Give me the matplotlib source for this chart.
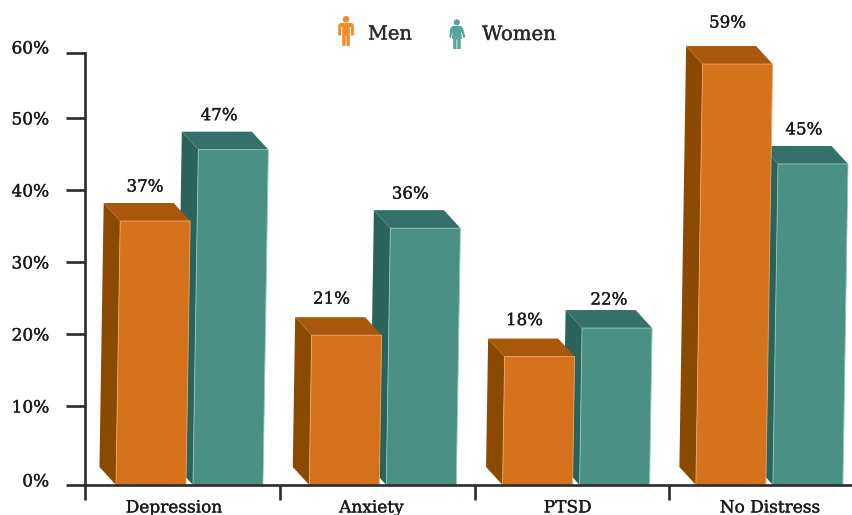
import matplotlib
matplotlib.use('Agg')
import matplotlib.pyplot as plt
import matplotlib.patheffects as pe
from matplotlib.patches import Polygon, Circle
from matplotlib.transforms import Affine2D

plt.rcParams['font.family'] = 'DejaVu Serif'

categories = ['Depression', 'Anxiety', 'PTSD', 'No Distress']
men = [37, 21, 18, 59]
women = [47, 36, 22, 45]

# the axis ticks sit on the back wall of the 3d box, the top one is cut short
tick_text = ['0%', '10%', '20%', '30%', '40%', '50%', '60%']
tick_pos = [0, 11.07, 21.16, 31.25, 41.35, 51.44, 60.5]
tick_text_pos = [0.56, 10.93, 21.02, 31.11, 41.2, 51.3, 61.25]
group_edges = [-0.543, 0.466, 1.475, 2.479]
label_shift = [-0.083, -0.062, -0.047, 0.0]

# hand nudges for the value labels, in pixels
men_label_dx = [-2, -7, -7, -2]
women_label_dx = [-6, -7, 0, -1]
men_label_lift = [0, 2, 2, 7]
women_label_lift = [0, 0, -6, 0]

INK = '#2b2b2b'
TEXT = '#1a1a1a'
MEN_COL = {'front': '#d6721c', 'side': '#8b4a00', 'top': '#a8570b', 'edge': '#e6a772'}
WOMEN_COL = {'front': '#4a9084', 'side': '#2b635b', 'top': '#35706a', 'edge': '#93c6bc'}
HEAVY = [pe.withStroke(linewidth=0.25, foreground=TEXT)]

W, H = 853, 515
fig = plt.figure(figsize=(W / 100, H / 100), dpi=100)
ax = fig.add_axes([85 / W, 30 / H, 768 / W, 432 / H])
ax.set_xlim(-0.543, 3.43)
ax.set_ylim(0, 60.55)

# size of one pixel in data units
PX = 1 / 193.3
PY = 1 / 7.135
PT = 72 / 100
BAR_W = 70 * PX
DEPTH_X = 16.5 * PX
DEPTH_Y = 18 * PY
LEAN = 0.016 * PX / PY


def bar3d(x, value, col):
    top_x = x + value * LEAN
    fl, fr = (x, 0), (x + BAR_W, 0)
    tl, tr = (top_x, value), (top_x + BAR_W, value)
    bl_top = (top_x - DEPTH_X, value + DEPTH_Y)
    br_top = (top_x + BAR_W - DEPTH_X, value + DEPTH_Y)
    bl_bot = (x - DEPTH_X, DEPTH_Y)
    ax.add_patch(Polygon([fl, tl, bl_top, bl_bot], fc=col['side'], ec='none', clip_on=False))
    ax.add_patch(Polygon([tl, tr, br_top, bl_top], fc=col['top'], ec='none', clip_on=False))
    ax.add_patch(Polygon([fl, fr, tr, tl], fc=col['front'], ec=col['edge'], lw=0.6, clip_on=False))
    return (top_x - DEPTH_X + top_x + BAR_W) / 2


def note(text, xy, dx, dy, size, ha='center'):
    ax.annotate(text, xy, xytext=(dx * PT, dy * PT), textcoords='offset points', ha=ha, va='center',
                fontsize=size, color=TEXT, annotation_clip=False, path_effects=HEAVY)


for i, name in enumerate(categories):
    # women first, the men's bar overlaps its side face
    cx_w = bar3d(i + 3 * PX, women[i], WOMEN_COL)
    cx_m = bar3d(i - 74 * PX, men[i], MEN_COL)
    note('%d%%' % women[i], (cx_w, women[i] + DEPTH_Y), women_label_dx[i], 16 + women_label_lift[i], 12)
    note('%d%%' % men[i], (cx_m, men[i] + DEPTH_Y), men_label_dx[i], 16 + men_label_lift[i], 12)
    note(name, (i + label_shift[i], 0), 0, -23, 12.2)

for s in ['top', 'right']:
    ax.spines[s].set_visible(False)
for s in ['left', 'bottom']:
    ax.spines[s].set_color(INK)
    ax.spines[s].set_linewidth(1.9)
    ax.spines[s].set_zorder(5)

ax.set_yticks(tick_pos, labels=[])
ax.set_xticks(group_edges, labels=[])
ax.tick_params(axis='y', length=13.7, width=1.9, color=INK)
ax.tick_params(axis='x', length=10.8, width=1.9, color=INK)
for t, y in zip(tick_text, tick_text_pos):
    note(t, (-0.543, y), -36, -1, 12.2, ha='right')

# legend figures, drawn in figure pixels with y going down
px = Affine2D().scale(1, -1).translate(0, H)


def shape(points, col):
    fig.add_artist(Polygon(points, fc=col, ec='none', transform=px))


MAN = '#f58a26'
fig.add_artist(Circle((346, 19.3), 3.3, fc=MAN, ec='none', transform=px))
shape([(340, 23), (352, 23), (353.8, 25), (353.8, 35.5), (351, 35.5), (351, 27), (349.8, 27), (349.8, 45.8),
       (346.4, 45.8), (346.4, 36), (345.6, 36), (345.6, 45.8), (342.2, 45.8), (342.2, 27), (341, 27), (341, 35.5),
       (338.2, 35.5), (338.2, 25)], MAN)

WOMAN = '#55a59a'
fig.add_artist(Circle((456.8, 22.4), 3.1, fc=WOMAN, ec='none', transform=px))
shape([(452.5, 26), (461, 26), (463, 28), (465.3, 37), (463.6, 38), (461, 30.5), (462, 39), (460.7, 39), (460.7, 49),
       (457.3, 49), (457.3, 39.5), (456.5, 39.5), (456.5, 49), (453.2, 49), (453.2, 39), (451.8, 39), (452.8, 30.5),
       (451, 38), (449.3, 37), (450.5, 28)], WOMAN)

fig.text(368, 34.5, 'Men', transform=px, fontsize=14, color=INK, va='center', path_effects=HEAVY)
fig.text(482, 34.5, 'Women', transform=px, fontsize=14.2, color=INK, va='center', path_effects=HEAVY)

fig.savefig('out.png', dpi=100)
